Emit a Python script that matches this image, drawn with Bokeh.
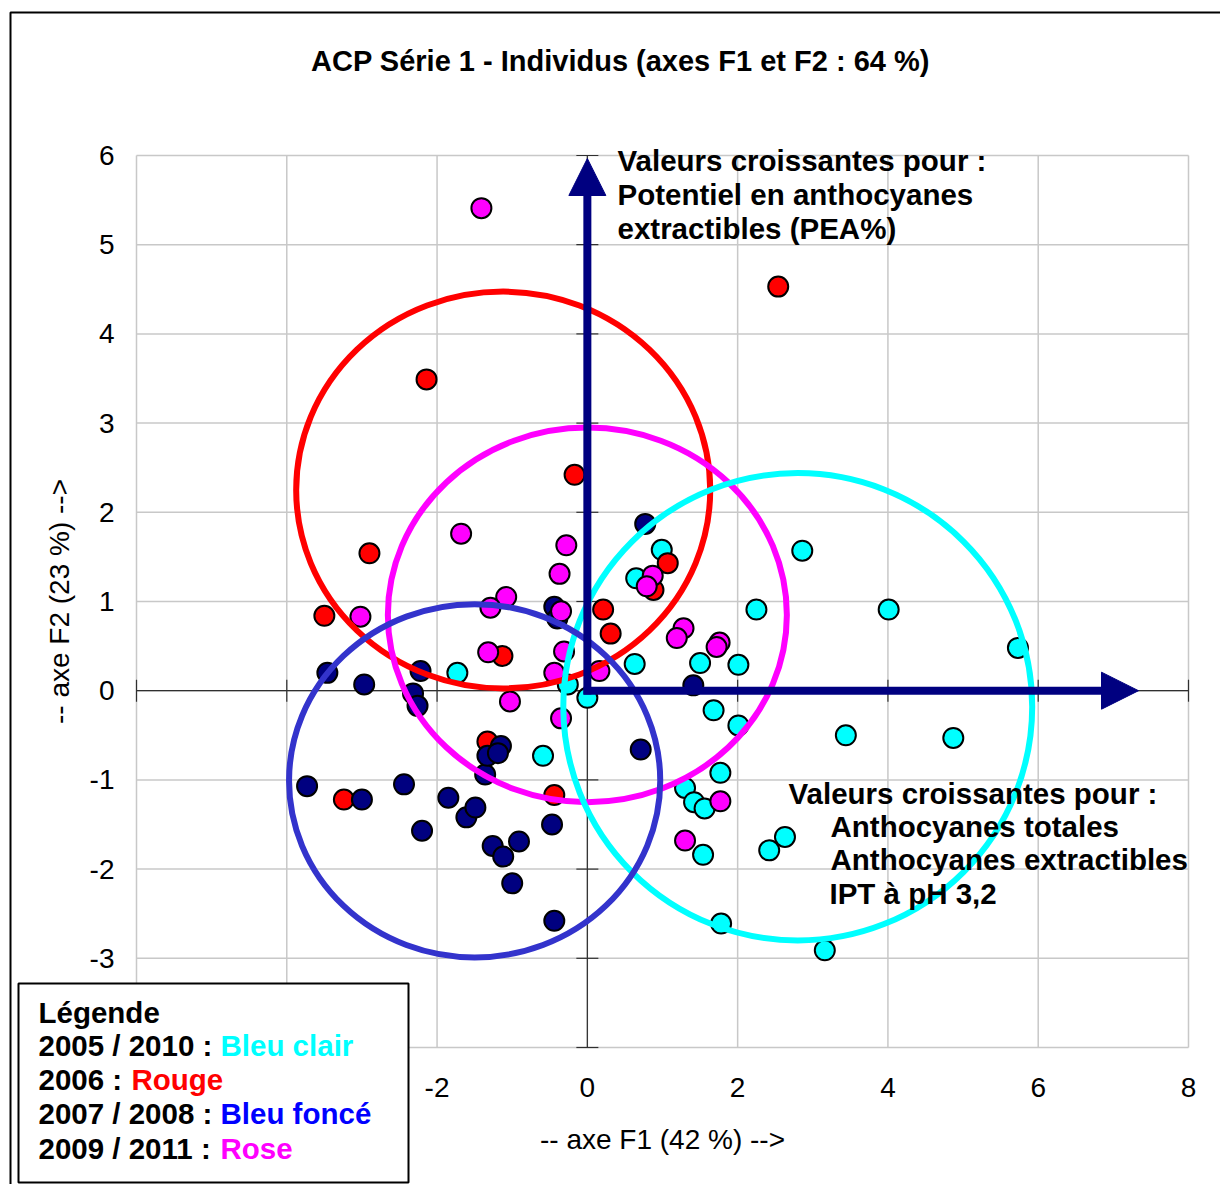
from bokeh.plotting import figure
from bokeh.models import (Range1d, LinearAxis, FixedTicker, Label, BoxAnnotation,
                          Arrow, NormalHead, ColumnDataSource)
from bokeh.embed import file_html
from bokeh.resources import INLINE

# ---------------- data ----------------
x_ticks = [-6, -4, -2, 0, 2, 4, 6, 8]
y_ticks = [-4, -3, -2, -1, 0, 1, 2, 3, 4, 5, 6]
# tick labels that are visible (the others sit under the legend box)
x_label_ticks = [-2, 0, 2, 4, 6, 8]
x_label_texts = ["-2", "0", "2", "4", "6", "8"]
y_label_ticks = [-3, -2, -1, 0, 1, 2, 3, 4, 5, 6]
y_label_texts = ["-3", "-2", "-1", "0", "1", "2", "3", "4", "5", "6"]

# 2005 / 2010 : bleu clair
cyan_x = [5.73, 4.01, 2.86, 2.25, 0.99, 0.65, 0.63, 1.50, 2.01, 0.00, -0.26, 1.68, 2.01,
          3.44, 4.87, 1.77, 1.30, 1.42, 1.56, 1.54, 2.63, 2.42, 1.78, 3.16, -1.73, -0.59]
cyan_y = [0.48, 0.91, 1.57, 0.91, 1.58, 1.26, 0.30, 0.31, 0.29, -0.08, 0.07, -0.22, -0.39,
          -0.50, -0.53, -0.92, -1.09, -1.25, -1.32, -1.84, -1.64, -1.79, -2.61, -2.91, 0.20, -0.73]

# 2006 : rouge
red_x = [2.54, -2.14, -0.17, -2.90, -3.50, 1.07, 0.88, 0.21, 0.31, -1.13, -3.24, -1.33, -0.44]
red_y = [4.53, 3.49, 2.42, 1.54, 0.84, 1.43, 1.13, 0.91, 0.64, 0.39, -1.22, -0.57, -1.17]

# 2007 / 2008 : bleu fonce
navy_x = [0.77, -0.44, -0.40, 1.41, -3.46, -2.97, -2.22, -2.32, -2.26, -3.73, -3.00, -2.44,
          -2.20, -1.85, -1.61, -1.49, -1.26, -1.12, -0.91, -1.00, -0.44, -0.47, 0.71, -1.36,
          -1.33, -1.15, -1.19]
navy_y = [1.87, 0.94, 0.81, 0.06, 0.20, 0.07, 0.22, -0.03, -0.17, -1.07, -1.22, -1.05,
          -1.57, -1.20, -1.42, -1.31, -1.74, -1.86, -1.69, -2.16, -2.58, -1.50, -0.66, -0.94,
          -0.73, -0.62, -0.70]

# 2009 / 2011 : rose
pink_x = [-1.41, -1.68, -0.28, -0.37, -1.08, -1.29, -3.02, -0.35, -1.32, -0.31, -0.44, -1.03,
          -0.35, 0.16, 0.87, 0.79, 1.28, 1.19, 1.76, 1.72, 1.77, 1.30]
pink_y = [5.41, 1.76, 1.63, 1.31, 1.05, 0.93, 0.83, 0.89, 0.43, 0.44, 0.20, -0.12,
          -0.31, 0.22, 1.29, 1.17, 0.70, 0.59, 0.54, 0.49, -1.24, -1.68]

# group circles (centre, width, height in axis units)
circle_names = ["Rouge", "Rose", "Bleu clair", "Bleu foncé"]
circle_x = [-1.12, 0.00, 2.80, -1.50]
circle_y = [2.25, 0.85, -0.18, -1.01]
circle_w = [5.51, 5.31, 6.24, 4.94]
circle_h = [4.45, 4.20, 5.24, 3.96]
circle_colors = ["#FF0000", "#FF00FF", "#00FFFF", "#3333CC"]

# ---------------- figure ----------------
FONT = "Liberation Sans"
W, H = 1220, 1184
X0, X1, Y0, Y1 = -6, 8, -4, 6
# plot area in page pixels
PL, PR, PT, PB = 136, 1188, 155, 1047
PXX = (PR - PL) / (X1 - X0)
PXY = (PB - PT) / (Y1 - Y0)


def dx(px):  # page pixel -> axis units
    return X0 + (px - PL) / PXX


def dy(py):
    return Y1 - (py - PT) / PXY


p = figure(width=W, height=H, output_backend="svg", toolbar_location=None,
           x_range=Range1d(dx(0), dx(W)), y_range=Range1d(dy(H), dy(0)),
           x_axis_location=None, y_axis_location=None,
           min_border_left=0, min_border_right=0, min_border_top=0, min_border_bottom=0)
p.background_fill_color = "white"
p.border_fill_color = "white"
p.outline_line_color = None
p.xgrid.visible = False
p.ygrid.visible = False

GRID = "#c8c8c8"
g1 = p.segment(x0=x_ticks, y0=[Y0] * len(x_ticks), x1=x_ticks, y1=[Y1] * len(x_ticks),
               line_color=GRID, line_width=1.5)
g2 = p.segment(x0=[X0] * len(y_ticks), y0=y_ticks, x1=[X1] * len(y_ticks), y1=y_ticks,
               line_color=GRID, line_width=1.5)
g1.level = "underlay"
g2.level = "underlay"

# axes crossing at zero with tick marks across the lines
AX = "#303030"
TX = 11 / PXX
TY = 11 / PXY
a1 = p.segment(x0=[0, X0], y0=[Y0, 0], x1=[0, X1], y1=[Y1, 0], line_color=AX, line_width=1.2)
a2 = p.segment(x0=[-TX] * len(y_ticks), y0=y_ticks, x1=[TX] * len(y_ticks), y1=y_ticks,
               line_color=AX, line_width=1.2)
a3 = p.segment(x0=x_ticks, y0=[-TY] * len(x_ticks), x1=x_ticks, y1=[TY] * len(x_ticks),
               line_color=AX, line_width=1.2)
for r in (a1, a2, a3):
    r.level = "underlay"


def style_axis(ax):
    ax.axis_line_color = None
    ax.major_tick_line_color = None
    ax.minor_tick_line_color = None
    ax.major_tick_out = 0
    ax.major_tick_in = 0
    ax.major_label_text_font = FONT
    ax.major_label_text_font_size = "28px"
    ax.major_label_text_color = "black"
    ax.axis_label_text_font = FONT
    ax.axis_label_text_font_size = "28px"
    ax.axis_label_text_font_style = "normal"
    ax.axis_label_text_color = "black"


xax = LinearAxis(fixed_location=Y0, bounds=(X0, X1), ticker=FixedTicker(ticks=x_label_ticks),
                 major_label_overrides=dict(zip(x_label_ticks, x_label_texts)),
                 axis_label="-- axe F1 (42 %) -->")
style_axis(xax)
xax.major_label_standoff = 30
xax.axis_label_standoff = 24
p.add_layout(xax, "below")

yax = LinearAxis(fixed_location=X0, bounds=(Y0, Y1), ticker=FixedTicker(ticks=y_label_ticks),
                 major_label_overrides=dict(zip(y_label_ticks, y_label_texts)),
                 axis_label="-- axe F2 (23 %) -->")
style_axis(yax)
yax.major_label_standoff = 22
yax.axis_label_standoff = 12
p.add_layout(yax, "left")

# points
MS = 20
p.scatter(cyan_x, cyan_y, size=MS, fill_color="#00FFFF", line_color="black", line_width=2)
p.scatter(red_x, red_y, size=MS, fill_color="#FF0000", line_color="black", line_width=2)
p.scatter(navy_x, navy_y, size=MS, fill_color="#000080", line_color="black", line_width=2)
p.scatter(pink_x, pink_y, size=MS, fill_color="#FF00FF", line_color="black", line_width=2)

# group circles
csrc = ColumnDataSource(dict(x=circle_x, y=circle_y, w=circle_w, h=circle_h, c=circle_colors))
p.ellipse(x="x", y="y", width="w", height="h", source=csrc, fill_color=None,
          line_color="c", line_width=6)

# arrows
NAVY = "#000080"
p.add_layout(Arrow(end=NormalHead(size=37, fill_color=NAVY, line_color=NAVY, line_width=1),
                   x_start=0, y_start=dy(694), x_end=0, y_end=dy(158),
                   line_color=NAVY, line_width=8))
p.add_layout(Arrow(end=NormalHead(size=37, fill_color=NAVY, line_color=NAVY, line_width=1),
                   x_start=dx(583), y_start=0, x_end=dx(1138), y_end=0,
                   line_color=NAVY, line_width=8))


def lab(text, px, py, size="29.5px", style="bold", color="black", align="left"):
    p.add_layout(Label(x=dx(px), y=dy(py), text=text, text_font=FONT, text_font_size=size,
                       text_font_style=style, text_color=color, text_align=align,
                       text_baseline="middle"))


# annotations
lab("Valeurs croissantes pour :", 617, 160)
lab("Potentiel en anthocyanes", 617, 194)
lab("extractibles (PEA%)", 617, 228)
lab("Valeurs croissantes pour :", 788, 793)
lab("Anthocyanes totales", 830, 826)
lab("Anthocyanes extractibles", 830, 859)
lab("IPT à pH 3,2", 829, 893)

# title
lab("ACP Série 1 - Individus (axes F1 et F2 : 64 %)", 620, 60, size="29px", align="center")

# outer chart border
p.add_layout(BoxAnnotation(left=dx(10), right=dx(1400), top=dy(12), bottom=dy(1400),
                           fill_alpha=0, line_color="black", line_alpha=1, line_width=2))

# legend box
p.add_layout(BoxAnnotation(left=dx(18), right=dx(408), top=dy(983), bottom=dy(1182),
                           fill_color="white", fill_alpha=1, line_color="black",
                           line_alpha=1, line_width=2))
lab("Légende", 38, 1012)
lab("2005 / 2010 :", 38, 1045)
lab("Bleu clair", 220, 1045, color="#00FFFF")
lab("2006 :", 38, 1079)
lab("Rouge", 131, 1079, color="#FF0000")
lab("2007 / 2008 :", 38, 1113)
lab("Bleu foncé", 220, 1113, color="#0000FF")
lab("2009 / 2011 :", 38, 1148)
lab("Rose", 220, 1148, color="#FF00FF")

open("out.html", "w").write(file_html(p, INLINE))
